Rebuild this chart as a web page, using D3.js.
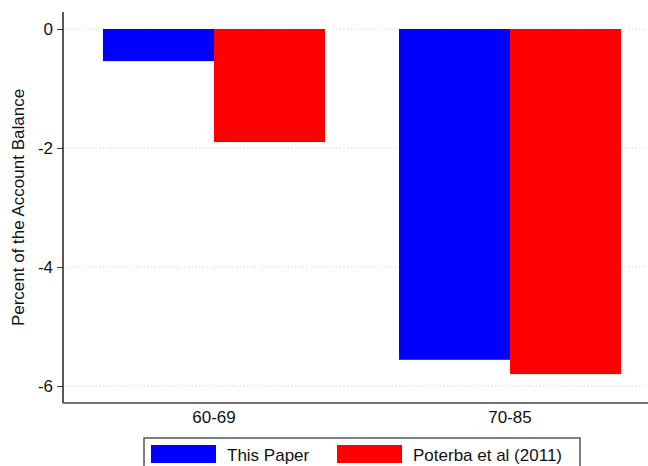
<!DOCTYPE html>
<html lang="en">
<head>
    <meta charset="UTF-8">
    <title>Account Balance Bar Chart</title>
    <script src="https://d3js.org/d3.v7.min.js"></script>
    <style>
        body { margin: 0; background: #fff; }
        text { font-family: "Liberation Sans", Arial, sans-serif; fill: #111; }
    </style>
</head>
<body>
    <svg id="chart" width="648" height="466"></svg>

    <script>
        // data
        const groups = ["60-69", "70-85"];
        const seriesNames = ["This Paper", "Poterba et al (2011)"];
        const thisPaper = [-0.54, -5.56];
        const poterba = [-1.90, -5.80];
        const yTicks = [0, -2, -4, -6];
        const colors = ["#0000ff", "#ff0000"];

        const svg = d3.select("#chart");
        const plotLeft = 63, plotRight = 661, plotTop = 12, plotBottom = 403;

        const y = d3.scaleLinear().domain([-6, 0]).range([386, 29]);
        const x = d3.scaleBand().domain(groups).range([plotLeft, plotRight])
            .paddingInner(0.25).paddingOuter(0.135);
        const xs = d3.scaleBand().domain(seriesNames).range([0, x.bandwidth()]);

        const rows = groups.map((g, i) => ({group: g, values: [thisPaper[i], poterba[i]]}));

        // gridlines
        svg.append("g").selectAll("line")
            .data(yTicks)
            .enter().append("line")
            .attr("x1", plotLeft + 3).attr("x2", 646)
            .attr("y1", d => y(d)).attr("y2", d => y(d))
            .attr("stroke", "#c8c8c8")
            .attr("stroke-width", 1)
            .attr("stroke-dasharray", "1,2.7");

        // bars
        svg.append("g").selectAll("g")
            .data(rows)
            .enter().append("g")
            .attr("transform", d => `translate(${x(d.group)},0)`)
            .selectAll("rect")
            .data(d => d.values.map((v, j) => ({name: seriesNames[j], value: v, color: colors[j]})))
            .enter().append("rect")
            .attr("x", d => xs(d.name))
            .attr("width", xs.bandwidth())
            .attr("y", y(0))
            .attr("height", d => y(d.value) - y(0))
            .attr("fill", d => d.color);

        // y axis (plain hyphen for the minus sign, as in the original)
        const yAxis = svg.append("g")
            .attr("transform", `translate(${plotLeft},0)`)
            .call(d3.axisLeft(y).tickValues(yTicks).tickSize(6).tickPadding(4).tickFormat(d => String(d)));
        yAxis.select(".domain").remove();
        yAxis.selectAll(".tick line").attr("stroke", "#444");
        yAxis.selectAll("text").attr("font-size", 17).attr("fill", "#111")
            .style("font-family", "Liberation Sans, Arial, sans-serif");
        svg.append("line")
            .attr("x1", plotLeft).attr("x2", plotLeft).attr("y1", plotTop).attr("y2", plotBottom)
            .attr("stroke", "#111").attr("stroke-width", 1.4);

        // x axis
        const xAxis = svg.append("g")
            .attr("transform", `translate(0,${plotBottom})`)
            .call(d3.axisBottom(x).tickSize(0).tickPadding(8));
        xAxis.select(".domain").remove();
        xAxis.selectAll("text").attr("font-size", 17).attr("fill", "#111")
            .style("font-family", "Liberation Sans, Arial, sans-serif");
        svg.append("line")
            .attr("x1", plotLeft).attr("x2", 648).attr("y1", plotBottom).attr("y2", plotBottom)
            .attr("stroke", "#444").attr("stroke-width", 1.6);

        // y label
        svg.append("text")
            .attr("transform", `translate(24,${(plotTop + plotBottom) / 2}) rotate(-90)`)
            .attr("text-anchor", "middle")
            .attr("font-size", 17)
            .text("Percent of the Account Balance");

        // legend
        const legend = svg.append("g");
        legend.append("rect")
            .attr("x", 144).attr("y", 438).attr("width", 436).attr("height", 40)
            .attr("fill", "#fff").attr("stroke", "#555").attr("stroke-width", 1.5);
        const items = legend.selectAll("g.item")
            .data(seriesNames)
            .enter().append("g")
            .attr("transform", (d, i) => `translate(${[151, 337][i]},445)`);
        items.append("rect")
            .attr("width", 65).attr("height", 18)
            .attr("fill", (d, i) => colors[i]);
        items.append("text")
            .attr("x", 76).attr("y", 15.5)
            .attr("font-size", 17)
            .text(d => d);
    </script>
</body>
</html>
